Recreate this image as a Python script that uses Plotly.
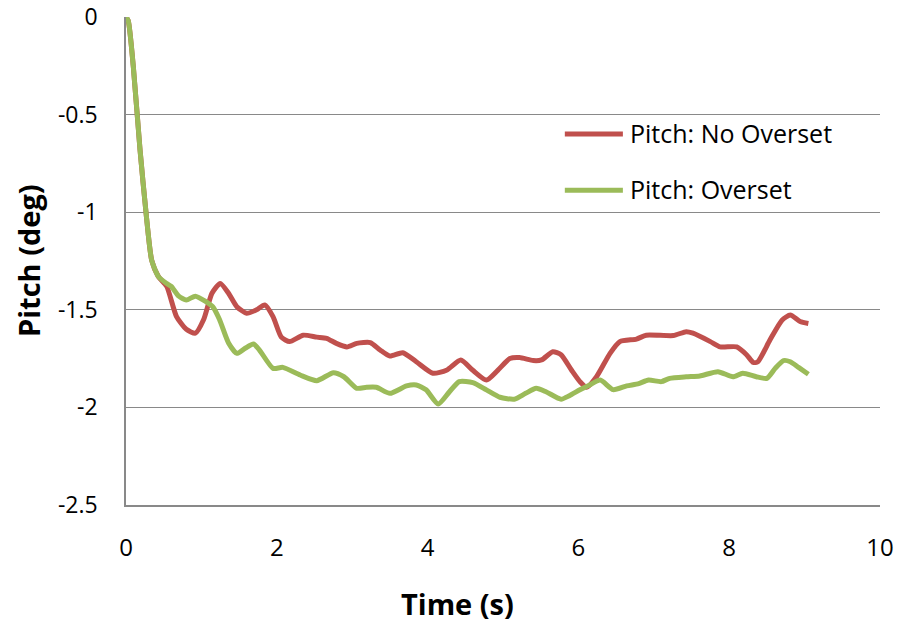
import plotly.graph_objects as go

t_red = [0, 0.03, 0.097, 0.186, 0.27, 0.34, 0.43, 0.54, 0.67, 0.80, 0.92, 1.03, 1.14, 1.25, 1.36, 1.47,
         1.60, 1.73, 1.84, 1.95, 2.06, 2.17, 2.35, 2.53, 2.66, 2.79, 2.93, 3.06, 3.24, 3.37, 3.50,
         3.67, 3.85, 4.07, 4.25, 4.44, 4.60, 4.78, 4.93, 5.09, 5.22, 5.40, 5.51, 5.66, 5.77, 5.91,
         6.02, 6.11, 6.24, 6.42, 6.55, 6.77, 6.90, 7.26, 7.43, 7.52, 7.75, 7.88, 8.10, 8.23, 8.32,
         8.38, 8.54, 8.70, 8.81, 8.94, 9.05]
pitch_no_overset = [0, -0.02, -0.254, -0.68, -1.02, -1.245, -1.33, -1.38, -1.535, -1.60, -1.62, -1.55,
                    -1.415, -1.365, -1.415, -1.484, -1.518, -1.50, -1.475, -1.535, -1.64, -1.663, -1.63,
                    -1.64, -1.646, -1.672, -1.69, -1.672, -1.668, -1.706, -1.737, -1.72, -1.766, -1.825,
                    -1.81, -1.757, -1.81, -1.86, -1.81, -1.75, -1.745, -1.76, -1.757, -1.715, -1.73,
                    -1.81, -1.868, -1.897, -1.843, -1.723, -1.663, -1.65, -1.63, -1.632, -1.612, -1.62,
                    -1.663, -1.69, -1.69, -1.73, -1.77, -1.766, -1.655, -1.553, -1.527, -1.56, -1.57]

t_green = [0, 0.03, 0.097, 0.186, 0.27, 0.34, 0.43, 0.54, 0.60, 0.70, 0.80, 0.92, 1.06, 1.15, 1.24,
           1.36, 1.47, 1.58, 1.69, 1.77, 1.95, 2.08, 2.31, 2.53, 2.75, 2.89, 3.06, 3.19, 3.32, 3.50,
           3.72, 3.85, 3.98, 4.14, 4.29, 4.42, 4.60, 4.78, 4.96, 5.15, 5.30, 5.44, 5.57, 5.77, 5.88,
           6.02, 6.15, 6.29, 6.46, 6.64, 6.80, 6.93, 7.10, 7.21, 7.43, 7.61, 7.85, 8.05, 8.18, 8.36,
           8.50, 8.61, 8.72, 8.81, 8.92, 9.05]
pitch_overset = [0, -0.02, -0.254, -0.68, -1.02, -1.245, -1.33, -1.365, -1.38, -1.43, -1.45, -1.43,
                 -1.458, -1.484, -1.55, -1.67, -1.723, -1.697, -1.675, -1.706, -1.80, -1.795, -1.834,
                 -1.863, -1.822, -1.843, -1.902, -1.897, -1.897, -1.928, -1.89, -1.885, -1.91, -1.983,
                 -1.92, -1.868, -1.873, -1.91, -1.948, -1.958, -1.928, -1.902, -1.92, -1.958, -1.94,
                 -1.91, -1.885, -1.86, -1.909, -1.89, -1.878, -1.86, -1.868, -1.851, -1.843, -1.839,
                 -1.817, -1.843, -1.825, -1.843, -1.851, -1.80, -1.76, -1.766, -1.795, -1.83]

x_ticks = [0, 2, 4, 6, 8, 10]
y_ticks = [0, -0.5, -1, -1.5, -2, -2.5]
y_tick_text = ["0", "-0.5", "-1", "-1.5", "-2", "-2.5"]

series_names = ["Pitch: No Overset", "Pitch: Overset"]
series_colors = ["#C0504D", "#9BBB59"]

FONT = "Open Sans, Lato, sans-serif"

fig = go.Figure()
fig.add_trace(go.Scatter(x=t_red, y=pitch_no_overset, mode="lines", name=series_names[0],
                         line=dict(color=series_colors[0], width=5, shape="spline", smoothing=0.6)))
fig.add_trace(go.Scatter(x=t_green, y=pitch_overset, mode="lines", name=series_names[1],
                         line=dict(color=series_colors[1], width=5, shape="spline", smoothing=0.6)))

# Manual legend (paper coordinates) to match long key lines
legend_y = [0.760, 0.645]
for name, color, ly in zip(series_names, series_colors, legend_y):
    fig.add_shape(type="line", xref="paper", yref="paper", x0=0.582, x1=0.659, y0=ly, y1=ly,
                  line=dict(color=color, width=5))
    fig.add_annotation(xref="paper", yref="paper", x=0.666, y=ly, text=name, showarrow=False,
                       xanchor="left", yanchor="middle", yshift=1,
                       font=dict(family=FONT, size=25, color="#000000"))

# Axis titles
fig.add_annotation(xref="paper", yref="paper", x=0.439, y=0, yshift=-98, text="<b>Time (s)</b>",
                   showarrow=False, xanchor="center", yanchor="middle",
                   font=dict(family=FONT, size=29, color="#000000"))
fig.add_annotation(xref="paper", yref="paper", x=0, xshift=-98, y=0.5, text="<b>Pitch (deg)</b>",
                   showarrow=False, textangle=-90, xanchor="center", yanchor="middle",
                   font=dict(family=FONT, size=29, color="#000000"))

fig.update_layout(
    width=899, height=626,
    margin=dict(l=126, r=19, t=17, b=121),
    paper_bgcolor="white", plot_bgcolor="white",
    font=dict(family=FONT, size=23, color="#000000"),
    showlegend=False,
)
fig.update_xaxes(range=[0, 10], tickvals=x_ticks, ticktext=[str(v) for v in x_ticks],
                 showgrid=False, showline=True, linecolor="#898989", linewidth=1.5,
                 ticks="", zeroline=False, ticklabelstandoff=20, automargin=False,
                 tickfont=dict(size=24))
fig.update_yaxes(range=[-2.5, 0], tickvals=y_ticks, ticktext=y_tick_text,
                 showgrid=True, gridcolor="#898989", gridwidth=1.2,
                 showline=True, linecolor="#898989", linewidth=1.5,
                 ticks="", zeroline=False, ticklabelstandoff=22, automargin=False,
                 tickfont=dict(size=23))

fig.write_html("out.html")
